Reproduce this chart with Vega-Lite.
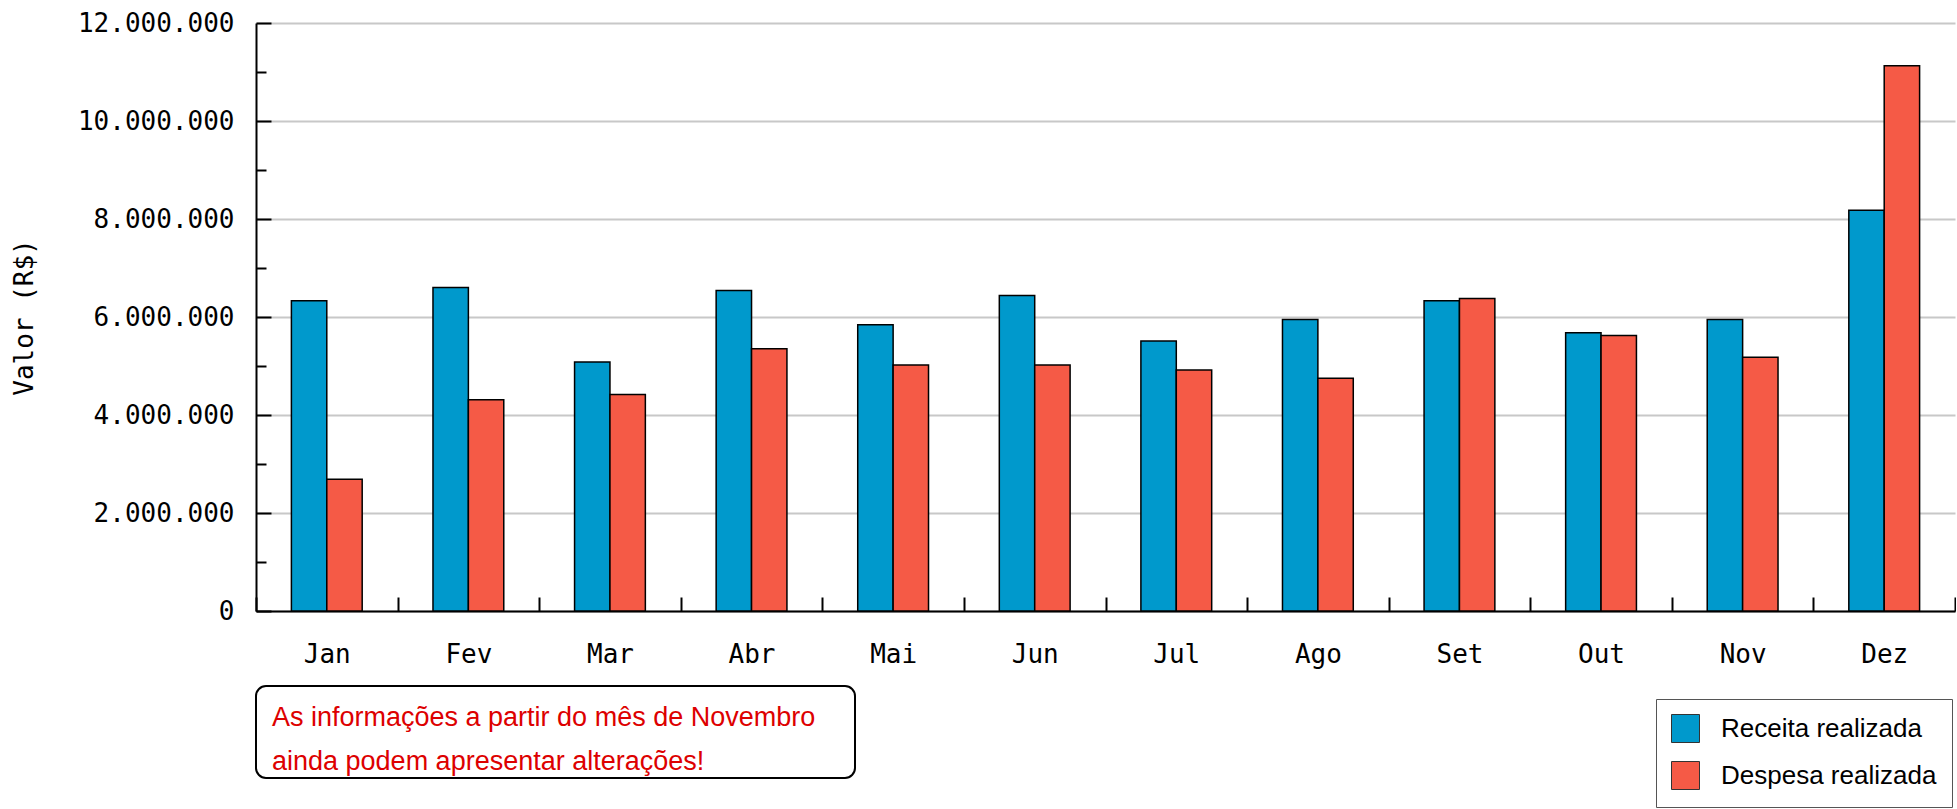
{
  "$schema": "https://vega.github.io/schema/vega-lite/v6.json",
  "background": "white",
  "padding": {"left": 11, "top": 10, "right": 0, "bottom": 0},
  "config": {"view": {"stroke": null}, "font": "DejaVu Sans Mono"},
  "spacing": 18,
  "vconcat": [
    {
      "width": 1699,
      "height": 588,
      "data": {
        "values": [
          {"mes": "Jan", "serie": "Receita realizada", "valor": 6330000},
          {"mes": "Jan", "serie": "Despesa realizada", "valor": 2690000},
          {"mes": "Fev", "serie": "Receita realizada", "valor": 6600000},
          {"mes": "Fev", "serie": "Despesa realizada", "valor": 4310000},
          {"mes": "Mar", "serie": "Receita realizada", "valor": 5080000},
          {"mes": "Mar", "serie": "Despesa realizada", "valor": 4420000},
          {"mes": "Abr", "serie": "Receita realizada", "valor": 6540000},
          {"mes": "Abr", "serie": "Despesa realizada", "valor": 5350000},
          {"mes": "Mai", "serie": "Receita realizada", "valor": 5840000},
          {"mes": "Mai", "serie": "Despesa realizada", "valor": 5020000},
          {"mes": "Jun", "serie": "Receita realizada", "valor": 6440000},
          {"mes": "Jun", "serie": "Despesa realizada", "valor": 5020000},
          {"mes": "Jul", "serie": "Receita realizada", "valor": 5510000},
          {"mes": "Jul", "serie": "Despesa realizada", "valor": 4920000},
          {"mes": "Ago", "serie": "Receita realizada", "valor": 5950000},
          {"mes": "Ago", "serie": "Despesa realizada", "valor": 4750000},
          {"mes": "Set", "serie": "Receita realizada", "valor": 6330000},
          {"mes": "Set", "serie": "Despesa realizada", "valor": 6380000},
          {"mes": "Out", "serie": "Receita realizada", "valor": 5680000},
          {"mes": "Out", "serie": "Despesa realizada", "valor": 5620000},
          {"mes": "Nov", "serie": "Receita realizada", "valor": 5950000},
          {"mes": "Nov", "serie": "Despesa realizada", "valor": 5180000},
          {"mes": "Dez", "serie": "Receita realizada", "valor": 8180000},
          {"mes": "Dez", "serie": "Despesa realizada", "valor": 11130000}
        ]
      },
      "mark": {"type": "bar", "stroke": "#000000", "strokeWidth": 1.5},
      "encoding": {
        "x": {
          "field": "mes",
          "type": "nominal",
          "sort": ["Jan", "Fev", "Mar", "Abr", "Mai", "Jun", "Jul", "Ago", "Set", "Out", "Nov", "Dez"],
          "scale": {"paddingInner": 0, "paddingOuter": 0},
          "axis": {
            "title": null,
            "labelAngle": 0,
            "labelFont": "DejaVu Sans Mono",
            "labelFontSize": 26,
            "labelColor": "#000000",
            "labelPadding": 44,
            "tickBand": "extent",
            "tickSize": -14,
            "tickColor": "#000000",
            "tickWidth": 2,
            "domainColor": "#000000",
            "domainWidth": 2,
            "grid": false
          }
        },
        "xOffset": {
          "field": "serie",
          "type": "nominal",
          "sort": ["Receita realizada", "Despesa realizada"],
          "scale": {"paddingInner": 0, "paddingOuter": 1.02}
        },
        "y": {
          "field": "valor",
          "type": "quantitative",
          "scale": {"domain": [0, 12000000], "nice": false},
          "axis": {
            "title": "Valor (R$)",
            "titleFont": "DejaVu Sans Mono",
            "titleFontSize": 26,
            "titleFontWeight": "normal",
            "titleColor": "#000000",
            "titlePadding": 40,
            "values": [0, 1000000, 2000000, 3000000, 4000000, 5000000, 6000000, 7000000, 8000000, 9000000, 10000000, 11000000, 12000000],
            "labelExpr": "datum.value % 2000000 === 0 ? replace(format(datum.value, ','), regexp(',', 'g'), '.') : ''",
            "labelFont": "DejaVu Sans Mono",
            "labelFontSize": 26,
            "labelColor": "#000000",
            "labelPadding": 37,
            "labelOverlap": false,
            "tickSize": {"condition": {"test": "datum.value % 2000000 === 0", "value": -15}, "value": -10},
            "tickColor": "#000000",
            "tickWidth": 2,
            "domainColor": "#000000",
            "domainWidth": 2,
            "grid": true,
            "gridColor": "#c8c8c8",
            "gridWidth": 2,
            "gridOpacity": {"condition": {"test": "datum.value % 2000000 === 0", "value": 1}, "value": 0}
          }
        },
        "color": {
          "field": "serie",
          "type": "nominal",
          "scale": {"domain": ["Receita realizada", "Despesa realizada"], "range": ["#0099cc", "#f55a46"]},
          "legend": {
            "orient": "none",
            "legendX": 1400,
            "legendY": 676,
            "title": null,
            "direction": "vertical",
            "symbolType": "square",
            "symbolSize": 784,
            "symbolStrokeColor": "#333333",
            "symbolStrokeWidth": 1,
            "symbolOpacity": 1,
            "labelFont": "Liberation Sans",
            "labelFontSize": 26,
            "labelColor": "#000000",
            "labelOffset": 21,
            "labelLimit": 400,
            "rowPadding": 14,
            "padding": 15,
            "strokeColor": "#555555",
            "fillColor": "#ffffff"
          }
        }
      }
    },
    {
      "width": 599,
      "height": 92,
      "view": {"stroke": "#000000", "strokeWidth": 2, "cornerRadius": 10, "fill": "#ffffff"},
      "data": {
        "values": [
          {"linha": 1, "texto": "As informações a partir do mês de Novembro"},
          {"linha": 2, "texto": "ainda podem apresentar alterações!"}
        ]
      },
      "mark": {
        "type": "text",
        "align": "left",
        "baseline": "middle",
        "font": "Liberation Sans",
        "fontSize": 27,
        "color": "#dd0000",
        "dx": -283.5,
        "dy": 8
      },
      "encoding": {
        "y": {"field": "linha", "type": "ordinal", "axis": null, "scale": {"type": "point", "padding": 0.545}},
        "text": {"field": "texto"}
      }
    }
  ]
}
